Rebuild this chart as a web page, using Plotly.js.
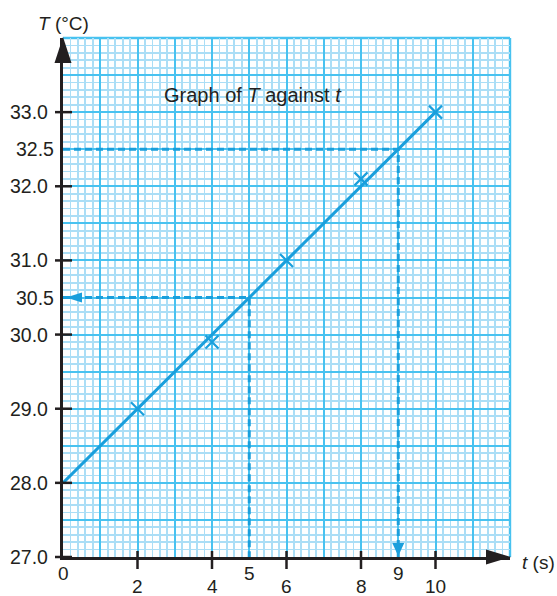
<!DOCTYPE html>
<html>
<head>
<meta charset="utf-8">
<script src="https://cdn.plot.ly/plotly-3.0.1.min.js"></script>
<style>html,body{margin:0;padding:0;background:#fff;}#chart{width:557px;height:596px;}</style>
</head>
<body>
<div id="chart"></div>
<script>
// Measured points
var times = [2, 4, 6, 8, 10];
var temps = [29.0, 29.9, 31.0, 32.1, 33.0];
// Best-fit line end points
var fitTimes = [0, 10];
var fitTemps = [28.0, 33.0];
// Readings from the graph (t=5 -> 30.5, T=32.5 -> t=9)
var readTimes = [5, 9];
var readTemps = [30.5, 32.5];
// Tick labels
var xLabelVals = [0, 2, 4, 5, 6, 8, 9, 10];
var xLabelText = ['0', '2', '4', '5', '6', '8', '9', '10'];
var xTickMarks = [2, 4, 6, 8, 10];
var yLabelVals = [27.0, 28.0, 29.0, 30.0, 30.5, 31.0, 32.0, 32.5, 33.0];
var yLabelText = ['27.0', '28.0', '29.0', '30.0', '30.5', '31.0', '32.0', '32.5', '33.0'];
var yTickMarks = [27, 28, 29, 30, 31, 32, 33];

var X0 = 0, X1 = 12, Y0 = 27, Y1 = 34;
var BLUE = '#1a9fdc';
var INK = '#231f20';
var MAJOR = '#48c2f0';
var MINOR = '#abdef6';
var FONT = 'Liberation Sans, Arial, Helvetica, sans-serif';
function px(v) { return (v - X0) / (X1 - X0); }
function py(v) { return (v - Y0) / (Y1 - Y0); }

var traces = [];
// dashed reading lines
for (var i = 0; i < readTimes.length; i++) {
  traces.push({
    x: [X0, readTimes[i], readTimes[i]],
    y: [readTemps[i], readTemps[i], Y0],
    mode: 'lines', type: 'scatter', hoverinfo: 'skip',
    line: {color: BLUE, width: 3, dash: '7px,4px'}
  });
}
traces.push({
  x: fitTimes, y: fitTemps, mode: 'lines', type: 'scatter',
  line: {color: BLUE, width: 3}
});
traces.push({
  x: times, y: temps, mode: 'markers', type: 'scatter',
  marker: {symbol: 'x-thin-open', size: 13, color: BLUE, line: {color: BLUE, width: 2.2}}
});

var annotations = [];
xLabelVals.forEach(function (v, k) {
  var high = (v === 0 || v === 5 || v === 9);
  annotations.push({
    x: v, xref: 'x', y: 0, yref: 'paper', yanchor: 'middle', xanchor: 'center',
    yshift: high ? -16 : -29, showarrow: false, text: xLabelText[k], borderpad: 0,
    font: {family: FONT, size: 19, color: INK}
  });
});
yLabelVals.forEach(function (v, k) {
  var half = (Math.round(v) !== v);
  annotations.push({
    x: 0, xref: 'paper', y: v, yref: 'y', xanchor: 'right', yanchor: 'middle',
    xshift: half ? -7 : -13, showarrow: false, text: yLabelText[k],
    font: {family: FONT, size: 19.5, color: INK}
  });
});
annotations.push({
  x: 0, xref: 'paper', y: 1, yref: 'paper', xanchor: 'center', yanchor: 'middle',
  yshift: 15, showarrow: false, text: '<i>T</i> (°C)',
  font: {family: FONT, size: 19, color: INK}
});
annotations.push({
  x: 1, xref: 'paper', y: 0, yref: 'paper', xanchor: 'center', yanchor: 'middle',
  xshift: 28, yshift: -5, showarrow: false, text: '<i>t</i> (s)',
  font: {family: FONT, size: 19, color: INK}
});
annotations.push({
  x: 5.11, xref: 'x', y: 33.23, yref: 'y', xanchor: 'center', yanchor: 'middle',
  showarrow: false, text: 'Graph of <i>T</i> against <i>t</i>',
  font: {family: FONT, size: 20, color: INK}
});

var shapes = [];
// outer grid border (top and right)
shapes.push({type: 'line', layer: 'below', xref: 'paper', yref: 'paper', x0: 0, x1: 1, y0: 1, y1: 1,
  line: {color: MAJOR, width: 2.4}});
shapes.push({type: 'line', layer: 'below', xref: 'paper', yref: 'paper', x0: 1, x1: 1, y0: 0, y1: 1,
  line: {color: MAJOR, width: 2.4}});
yTickMarks.forEach(function (v) {
  shapes.push({type: 'line', xref: 'paper', xsizemode: 'pixel', xanchor: px(X0), x0: -8, x1: 9,
    yref: 'paper', y0: py(v), y1: py(v), line: {color: INK, width: 2.5}});
});
xTickMarks.forEach(function (v) {
  shapes.push({type: 'line', xref: 'paper', x0: px(v), x1: px(v), yref: 'paper', ysizemode: 'pixel',
    yanchor: py(Y0), y0: -12, y1: 6, line: {color: INK, width: 2.5}});
});
// axis arrowheads (black)
shapes.push({type: 'path', xref: 'paper', xsizemode: 'pixel', xanchor: px(X0), yref: 'paper', ysizemode: 'pixel',
  yanchor: py(Y1), path: 'M -8.5,-25 L 8.5,-25 L 0,1 Z', fillcolor: INK, line: {width: 0}});
shapes.push({type: 'path', xref: 'paper', xsizemode: 'pixel', xanchor: px(X1), yref: 'paper', ysizemode: 'pixel',
  yanchor: py(Y0), path: 'M -24,-7.5 L -24,7.5 L 1,0 Z', fillcolor: INK, line: {width: 0}});
// reading arrowheads (blue)
shapes.push({type: 'path', xref: 'paper', xsizemode: 'pixel', xanchor: px(X0), yref: 'paper', ysizemode: 'pixel',
  yanchor: py(readTemps[0]), path: 'M 3,0 L 19,-5 L 19,5 Z', fillcolor: BLUE, line: {width: 0}});
shapes.push({type: 'path', xref: 'paper', xsizemode: 'pixel', xanchor: px(readTimes[1]), yref: 'paper', ysizemode: 'pixel',
  yanchor: py(Y0), path: 'M -6,14 L 6,14 L 0,1 Z', fillcolor: BLUE, line: {width: 0}});

var layout = {
  width: 557, height: 596,
  margin: {l: 63, r: 47, t: 38, b: 39, pad: 0},
  paper_bgcolor: '#ffffff', plot_bgcolor: '#ffffff',
  showlegend: false,
  xaxis: {
    range: [X0, X1], tickmode: 'linear', tick0: 0, dtick: 1, showticklabels: false, ticks: '',
    showgrid: true, gridcolor: MAJOR, gridwidth: 2,
    minor: {tick0: 0, dtick: 0.2, showgrid: true, gridcolor: MINOR, gridwidth: 1.8, ticks: ''},
    zeroline: false, showline: true, linecolor: INK, linewidth: 2.6, fixedrange: true
  },
  yaxis: {
    range: [Y0, Y1], tickmode: 'linear', tick0: 27, dtick: 0.5, showticklabels: false, ticks: '',
    showgrid: true, gridcolor: MAJOR, gridwidth: 2,
    minor: {tick0: 27, dtick: 0.1, showgrid: true, gridcolor: MINOR, gridwidth: 1.8, ticks: ''},
    zeroline: false, showline: true, linecolor: INK, linewidth: 2.6, fixedrange: true
  },
  annotations: annotations,
  shapes: shapes
};

Plotly.newPlot('chart', traces, layout, {displayModeBar: false, staticPlot: true});
</script>
</body>
</html>
